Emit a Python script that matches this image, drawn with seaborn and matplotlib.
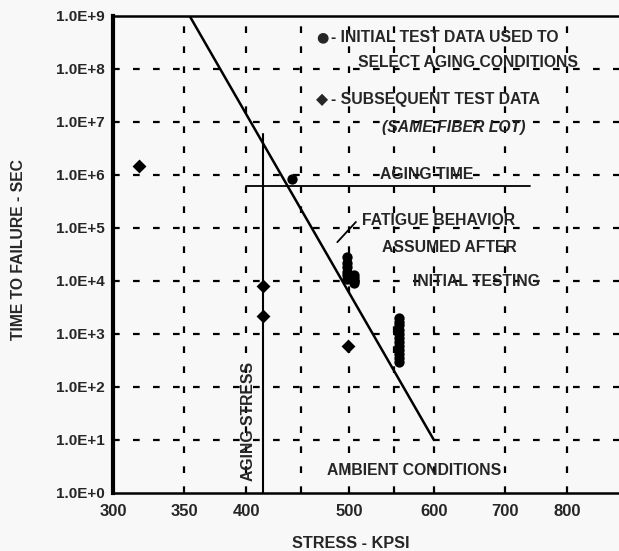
import numpy as np
import pandas as pd
import matplotlib
matplotlib.use("Agg")
import matplotlib.pyplot as plt
import seaborn as sns
from matplotlib.ticker import FixedLocator, LogLocator, NullFormatter

# ---- data ----
initial_stress = [442, 497, 497, 497, 497, 497, 497, 505, 505, 505, 505,
                  557, 557, 557, 557, 557, 557, 557, 557, 557, 557, 557, 557]
initial_time = [8.5e5, 2.8e4, 2.2e4, 1.8e4, 1.5e4, 1.3e4, 1.1e4, 1.3e4, 1.15e4, 1.0e4, 9.0e3,
                2.0e3, 1.7e3, 1.45e3, 1.2e3, 1.0e3, 850, 700, 600, 500, 420, 350, 290]
subseq_stress = [317, 415, 415, 498]
subseq_time = [1.45e6, 8.0e3, 2.2e3, 600]
fatigue_stress = [354, 600]
fatigue_time = [1.0e9, 1.0e1]
aging_time_stress = [400, 738]
aging_time_value = [6.2e5, 6.2e5]
aging_stress_stress = [415, 415]
aging_stress_time = [1.0, 6.0e6]

x_ticks = [300, 350, 400, 450, 500, 550, 600, 700, 800]
x_ticklabels = ["300", "350", "400", "", "500", "", "600", "700", "800"]
y_ticks = [1e0, 1e1, 1e2, 1e3, 1e4, 1e5, 1e6, 1e7, 1e8, 1e9]
y_ticklabels = ["1.0E+0", "1.0E+1", "1.0E+2", "1.0E+3", "1.0E+4", "1.0E+5",
                "1.0E+6", "1.0E+7", "1.0E+8", "1.0E+9"]

sns.set_style("white")
plt.rcParams['font.family'] = ['Liberation Sans', 'DejaVu Sans']
plt.rcParams['font.weight'] = 'bold'

bg = "#f8f8f8"
fig = plt.figure(figsize=(6.19, 5.51), dpi=100, facecolor=bg)
ax = fig.add_axes([0.1826, 0.1053, 0.8174, 0.8657], facecolor=bg)
ax.set_xscale("log")
ax.set_yscale("log")
ax.set_xlim(300, 895)
ax.set_ylim(1, 1e9)

# grid
for xv in x_ticks[1:]:
    ax.axvline(xv, color="black", lw=1.6, dashes=(3.0, 6.0), zorder=1)
for yv in y_ticks[1:-1]:
    ax.axhline(yv, color="black", lw=1.6, dashes=(3.0, 6.0), zorder=1)

df_f = pd.DataFrame({"stress": fatigue_stress, "time": fatigue_time})
sns.lineplot(data=df_f, x="stress", y="time", color="black", lw=1.8, ax=ax, zorder=3)
df_a = pd.DataFrame({"stress": aging_time_stress, "time": aging_time_value})
sns.lineplot(data=df_a, x="stress", y="time", color="black", lw=1.3, ax=ax, zorder=3)
df_s = pd.DataFrame({"stress": aging_stress_stress, "time": aging_stress_time})
sns.lineplot(data=df_s, x="stress", y="time", color="black", lw=1.5, ax=ax, zorder=3,
             estimator=None, sort=False)

df_i = pd.DataFrame({"stress": initial_stress, "time": initial_time})
sns.scatterplot(data=df_i, x="stress", y="time", marker="o", s=55, color="black",
                edgecolor="black", linewidth=0, ax=ax, zorder=4)
df_q = pd.DataFrame({"stress": subseq_stress, "time": subseq_time})
sns.scatterplot(data=df_q, x="stress", y="time", marker="D", s=50, color="black",
                edgecolor="black", linewidth=0, ax=ax, zorder=4)

# annotations
fs = 11.3
tkw = dict(fontsize=fs, fontweight="bold", va="center", ha="left", zorder=5)
ax.text(465, 4.0e8, "\u25cf", fontsize=fs - 1, fontweight="bold", va="center",
        ha="left", zorder=5, family="DejaVu Sans")
ax.text(480, 4.0e8, "- INITIAL TEST DATA USED TO", **tkw)
ax.text(509, 1.3e8, "SELECT AGING CONDITIONS", **tkw)
ax.text(465, 2.6e7, "\u25c6", fontsize=fs, fontweight="bold", va="center",
        ha="left", zorder=5, family="DejaVu Sans")
ax.text(480, 2.6e7, "- SUBSEQUENT TEST DATA", **tkw)
ax.text(536, 7.7e6, "(SAME FIBER LOT)", style="italic", **tkw)
ax.text(591, 1.0e6, "AGING TIME", fontsize=fs, fontweight="bold", va="center",
        ha="center", zorder=5)
ax.text(514, 1.4e5, "FATIGUE BEHAVIOR", **tkw)
ax.text(536, 4.2e4, "ASSUMED AFTER", **tkw)
ax.text(573, 9.6e3, "INITIAL TESTING", **tkw)
ax.text(476, 2.6, "AMBIENT CONDITIONS", **tkw)
ax.text(402, 22, "AGING STRESS", fontsize=fs, fontweight="bold", rotation=90,
        va="center", ha="center", zorder=5)
ax.plot([487, 507], [5.4e4, 1.3e5], color="black", lw=1.3, zorder=5)

# axes styling
ax.xaxis.set_major_locator(FixedLocator(x_ticks))
ax.xaxis.set_minor_locator(FixedLocator([]))
ax.set_xticklabels(x_ticklabels)
ax.yaxis.set_major_locator(FixedLocator(y_ticks))
ax.set_yticklabels(y_ticklabels)
ax.yaxis.set_minor_locator(LogLocator(base=10, subs=np.arange(2, 10), numticks=20))
ax.yaxis.set_minor_formatter(NullFormatter())
ax.tick_params(axis="y", which="major", direction="in", length=8, width=2,
               labelsize=fs - 0.3, pad=6)
ax.tick_params(axis="y", which="minor", direction="in", length=6, width=1.2)
ax.tick_params(axis="x", which="major", direction="in", length=6, width=1.5,
               labelsize=fs + 0.7, pad=8)
for lab in ax.get_xticklabels() + ax.get_yticklabels():
    lab.set_fontweight("bold")

ax.spines["left"].set_linewidth(3)
for side in ["top", "bottom"]:
    ax.spines[side].set_linewidth(1.8)
ax.spines["right"].set_visible(False)
for s in ax.spines.values():
    s.set_color("black")

ax.set_xlabel("")
ax.set_ylabel("")
fig.text(0.566, 0.0145, "STRESS - KPSI", fontsize=fs + 0.4, fontweight="bold",
         ha="center", va="center")
fig.text(0.030, 0.548, "TIME TO FAILURE - SEC", fontsize=fs, fontweight="bold",
         rotation=90, ha="center", va="center")

fig.savefig("out.png", dpi=100, facecolor=bg)
